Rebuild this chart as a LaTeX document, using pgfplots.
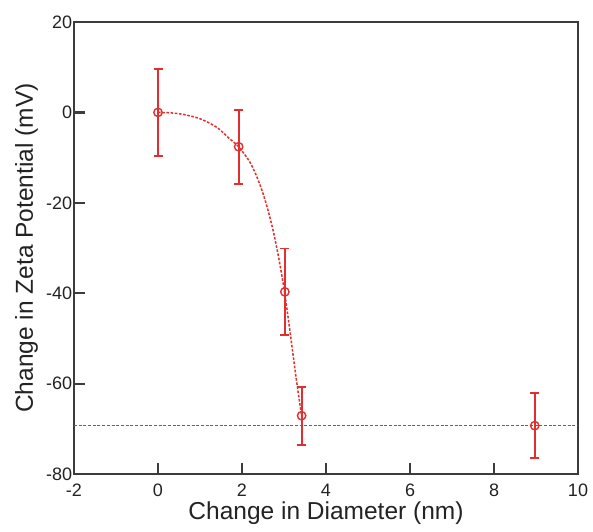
\documentclass[border=0pt]{standalone}
\usepackage{pgfplots}
\pgfplotsset{compat=1.18}
\usepackage{fontspec}
\setmainfont{Liberation Sans}
\definecolor{myred}{RGB}{226,46,46}
\definecolor{axgray}{RGB}{60,60,60}
\definecolor{txt}{RGB}{35,35,35}
\begin{document}
\begin{tikzpicture}
\useasboundingbox (-74pt,-57pt) rectangle (519pt,474pt);
\begin{axis}[
  at={(0pt,0pt)}, anchor=south west,
  scale only axis,
  width=504pt, height=452pt,
  xmin=-2, xmax=10, ymin=-80, ymax=20,
  xtick={-2,0,2,4,6,8,10},
  ytick={-80,-60,-40,-20,0,20},
  xtick pos=bottom, ytick pos=left,
  tick align=inside,
  major tick length=11pt,
  axis line style={axgray, line width=2pt},
  every axis/.append style={line width=2pt},
  xtick style={draw=axgray, line width=2.2pt},
  ytick style={draw=axgray, line width=2.2pt},
  /pgf/number format/assume math mode=true,
  tick label style={font=\fontsize{18}{20}\selectfont, text=txt},
  xticklabel style={yshift=-6pt},
  yticklabel style={xshift=2.5pt},
  xlabel={Change in Diameter (nm)},
  ylabel={Change in Zeta Potential (mV)},
  label style={font=\fontsize{24.5}{27}\selectfont, text=txt},
  xlabel style={at={(axis description cs:0.5,0)}, anchor=base, yshift=-45pt},
  ylabel style={at={(axis description cs:0,0.5)}, anchor=base, yshift=41pt},
  extra description/.code={
    \foreach \t in {0,2,4,6,8}{
      \draw[axgray, line width=2.2pt] (axis cs:\t,-80) -- ([yshift=10pt]axis cs:\t,-80);
    }
    \foreach \t in {-60,-40,-20,0}{
      \draw[axgray, line width=2.2pt] (axis cs:-2,\t) -- ([xshift=11pt]axis cs:-2,\t);
    }
  },
]
% fitted curve
\addplot[color=myred, line width=1.5pt, dash pattern=on 2.6pt off 1.6pt, smooth] coordinates {
(0,0) (0.3,-0.1) (0.6,-0.45) (1.0,-1.4) (1.4,-3.3) (1.7,-5.8) (1.92,-7.6)
(2.2,-11.2) (2.42,-15.8) (2.6,-21) (2.75,-26.5) (2.88,-32.5) (3.0,-39)
(3.1,-45.5) (3.2,-52.5) (3.3,-59.5) (3.42,-67.2)};
% horizontal plateau
\addplot[color=myred, line width=1.7pt, dash pattern=on 3pt off 1.7pt] coordinates {(-2,-69.3) (10,-69.3)};
% data with error bars
\addplot[color=myred, only marks, mark=o, mark size=4.2pt, mark options={line width=1.4pt},
  error bars/.cd, y dir=both, y explicit,
  error bar style={line width=1.8pt, myred},
  error mark options={rotate=90, mark size=4.5pt, line width=1.8pt, myred}]
coordinates {
(0,0) +- (0,9.6)
(1.92,-7.6) +- (0,8.2)
(3.02,-39.7) +- (0,9.6)
(3.42,-67.1) +- (0,6.4)
(8.97,-69.3) +- (0,7.2)
};
\end{axis}
\end{tikzpicture}
\end{document}
